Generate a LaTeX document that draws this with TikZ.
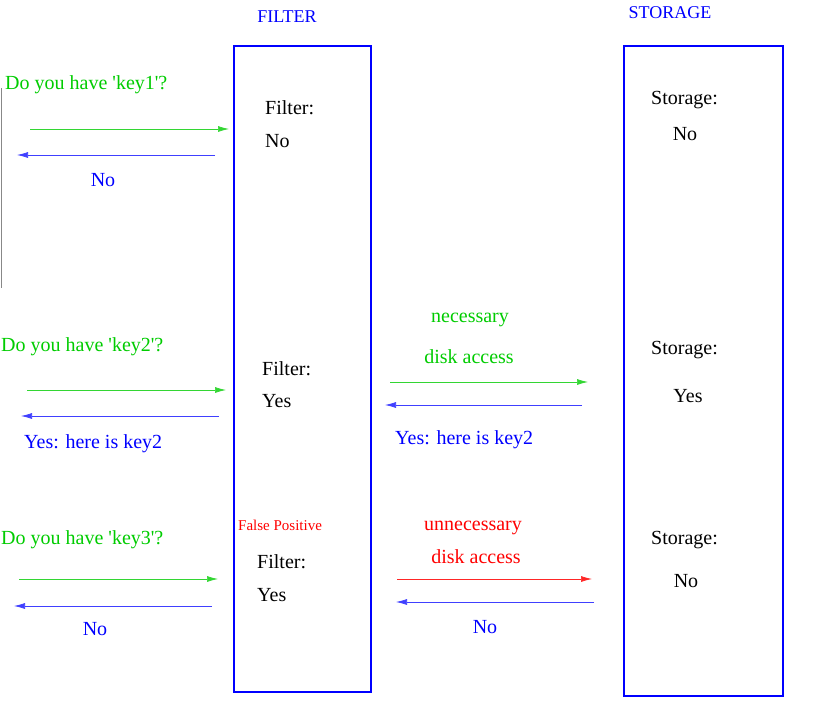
\documentclass[tikz,border=0pt]{standalone}
\usepackage{fontspec}
\setmainfont{Liberation Serif}
\newfontfamily\timesface{Liberation Serif}
\usetikzlibrary{arrows.meta}
\definecolor{askgreen}{HTML}{00CC00}
\definecolor{replyblue}{HTML}{0000FF}
\definecolor{falsered}{HTML}{FF0000}
\definecolor{edgegrey}{HTML}{888888}
\newcommand{\tick}{\textquotesingle}

\begin{document}
\begin{tikzpicture}[x=1pt,y=-1pt,font=\timesface\fontsize{20}{24}\selectfont,
  msg/.style={line width=0.7pt,-{Latex[length=11pt,width=6pt]}},
  lbl/.style={inner sep=0pt,anchor=west},
  column/.style={draw=replyblue,line width=2.4pt,inner sep=0pt}]
  \useasboundingbox (0,0) rectangle (830,707);
  % the two columns and their titles
  \node[column,minimum width=137pt,minimum height=646pt] (filterbox) at (302.5,369) {};
  \node[column,minimum width=159pt,minimum height=650pt] (storagebox) at (703.5,371) {};
  \node[replyblue,font=\timesface\fontsize{18}{21}\selectfont] (filtertitle) at (287,17) {FILTER};
  \node[replyblue,font=\timesface\fontsize{18}{21}\selectfont] (storagetitle) at (670,13) {STORAGE};
  \draw[edgegrey,line width=0.8pt] (1,88) coordinate (edgetop) -- (1,288) coordinate (edgebot);

  % key1: filter says no
  \node[lbl,askgreen] (ask1) at (5,85) {Do you have \tick key1\tick?};
  \coordinate (a1s) at (30,129); \coordinate (a1e) at (229,129);
  \coordinate (b1s) at (215,155); \coordinate (b1e) at (17,155);
  \draw[msg,askgreen!80] (a1s) -- (a1e);
  \draw[msg,replyblue!75] (b1s) -- (b1e);
  \node[replyblue] (no1) at (103,180) {No};
  \node[lbl] (filt1) at (265,108) {Filter:};
  \node[lbl] (filtval1) at (265,141) {No};
  \node[lbl] (stor1) at (651,100) {Storage:};
  \node (storval1) at (685,134) {No};

  % key2: necessary disk access
  \node[lbl,askgreen] (ask2) at (1,347) {Do you have \tick key2\tick?};
  \coordinate (a2s) at (27,390); \coordinate (a2e) at (226,390);
  \coordinate (b2s) at (219,416); \coordinate (b2e) at (21,416);
  \draw[msg,askgreen!80] (a2s) -- (a2e);
  \draw[msg,replyblue!75] (b2s) -- (b2e);
  \node[lbl,replyblue] (yes2) at (24,444) {Yes: here is key2};
  \node[lbl] (filt2) at (262,369) {Filter:};
  \node[lbl] (filtval2) at (262,401) {Yes};
  \node[askgreen] (need1) at (470,320) {necessary};
  \node[askgreen] (need2) at (469,357) {disk access};
  \coordinate (c2s) at (390,382); \coordinate (c2e) at (588,382);
  \coordinate (d2s) at (582,405); \coordinate (d2e) at (385,405);
  \draw[msg,askgreen!80] (c2s) -- (c2e);
  \draw[msg,replyblue!75] (d2s) -- (d2e);
  \node[lbl,replyblue] (yesback2) at (395,440) {Yes: here is key2};
  \node[lbl] (stor2) at (651,350) {Storage:};
  \node (storval2) at (688,396) {Yes};

  % key3: false positive
  \node[lbl,askgreen] (ask3) at (1,540) {Do you have \tick key3\tick?};
  \coordinate (a3s) at (19,579); \coordinate (a3e) at (218,579);
  \coordinate (b3s) at (212,606); \coordinate (b3e) at (14,606);
  \draw[msg,askgreen!80] (a3s) -- (a3e);
  \draw[msg,replyblue!75] (b3s) -- (b3e);
  \node[replyblue] (no3) at (95,629) {No};
  \node[lbl,falsered,font=\timesface\fontsize{15}{18}\selectfont] (falsepos) at (238,525) {False Positive};
  \node[lbl] (filt3) at (257,562) {Filter:};
  \node[lbl] (filtval3) at (257,595) {Yes};
  \node[falsered] (waste1) at (473,528) {unnecessary};
  \node[falsered] (waste2) at (476,557) {disk access};
  \coordinate (c3s) at (397,579); \coordinate (c3e) at (592,579);
  \coordinate (d3s) at (594,602); \coordinate (d3e) at (396,602);
  \draw[msg,falsered!85] (c3s) -- (c3e);
  \draw[msg,replyblue!75] (d3s) -- (d3e);
  \node[replyblue] (no3back) at (485,627) {No};
  \node[lbl] (stor3) at (651,540) {Storage:};
  \node (storval3) at (686,581) {No};
\end{tikzpicture}
\end{document}
